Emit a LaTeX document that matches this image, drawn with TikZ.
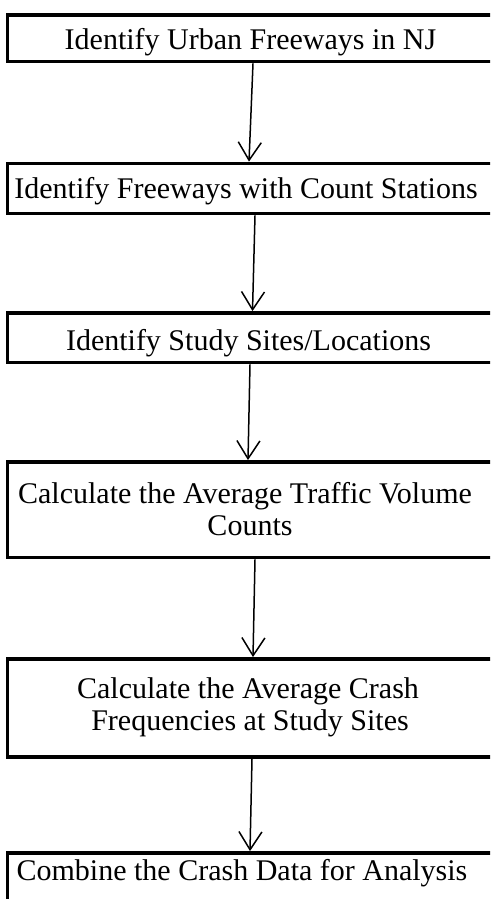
\documentclass[tikz,border=0pt]{standalone}
\usepackage{fontspec}
\setmainfont{Liberation Serif}
\usetikzlibrary{arrows.meta}

\tikzset{
  stepbox/.style={draw=black, line width=3.8pt, rectangle, inner sep=0pt,
                  minimum width=489pt},
  steptext/.style={anchor=base, inner sep=0pt,
                   font=\fontsize{30}{32}\selectfont},
  flow/.style={line width=1.5pt,
               -{Straight Barb[length=18pt, width=23pt, line width=1.5pt]}}
}

\begin{document}
\begin{tikzpicture}[x=1pt, y=-1pt]
  \useasboundingbox (0,0) rectangle (490,899);
  \clip (0,0) rectangle (490,899);
  \fill[white] (0,0) rectangle (490,899);

  % process boxes (right side runs off the page)
  \node[stepbox, minimum height=46.2pt] (b1) at (252, 38.4)  {};
  \node[stepbox, minimum height=50pt]   (b2) at (252, 188.5) {};
  \node[stepbox, minimum height=49.5pt] (b3) at (252, 337.75) {};
  \node[stepbox, minimum height=95.5pt] (b4) at (252, 509.75) {};
  \node[stepbox, minimum height=98pt]   (b5) at (252, 708)   {};
  \node[stepbox, minimum height=60pt]   (b6) at (252, 883)   {};

  % step labels
  \node[steptext] (t1)  at (250.5, 50)  {Identify Urban Freeways in NJ};
  \node[steptext] (t2)  at (246, 198.3) {Identify Freeways with Count Stations};
  \node[steptext] (t3)  at (248.5, 350) {Identify Study Sites/Locations};
  \node[steptext] (t4a) at (245, 503)   {Calculate the Average Traffic Volume};
  \node[steptext] (t4b) at (250, 535)   {Counts};
  \node[steptext] (t5a) at (248, 698)   {Calculate the Average Crash};
  \node[steptext] (t5b) at (250, 730)   {Frequencies at Study Sites};
  \node[steptext] (t6)  at (242, 880)   {Combine the Crash Data for Analysis};

  % connectors between steps
  \draw[flow] ([xshift=1pt]b1.south)  -- ([xshift=-3pt]b2.north);
  \draw[flow] ([xshift=3pt]b2.south)  -- ([xshift=0.5pt]b3.north);
  \draw[flow] ([xshift=-2pt]b3.south) -- ([xshift=-4pt]b4.north);
  \draw[flow] ([xshift=3pt]b4.south)  -- ([xshift=1pt]b5.north);
  \draw[flow] ([xshift=0pt]b5.south)  -- ([xshift=-2pt]b6.north);
\end{tikzpicture}
\end{document}
